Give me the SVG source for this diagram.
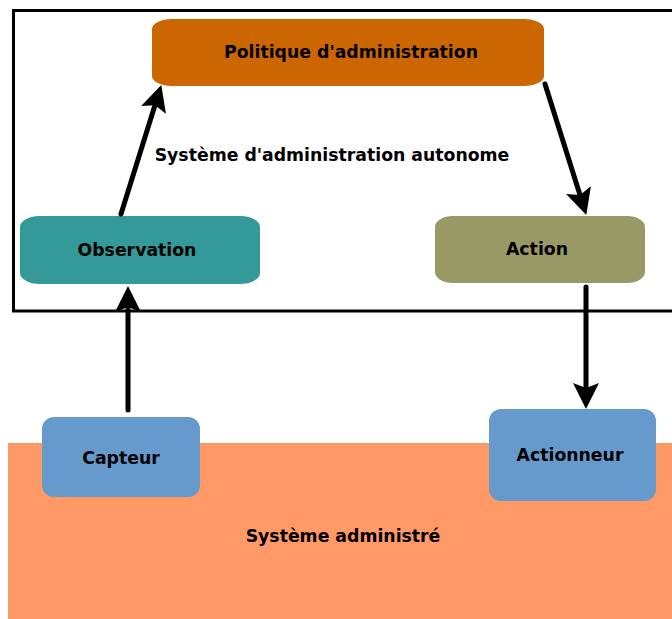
<svg xmlns="http://www.w3.org/2000/svg" width="672" height="619" viewBox="0 0 672 619">
<style>
  text { font-family: "DejaVu Sans", "Liberation Sans", sans-serif; font-weight: bold; font-size: 17.3px; fill: #000; text-anchor: middle; }
  .conn { stroke: #000; stroke-width: 5; fill: none; stroke-linecap: round; marker-end: url(#ah); }
</style>
<defs>
  <marker id="ah" markerUnits="userSpaceOnUse" markerWidth="28" markerHeight="28" viewBox="0 0 28 28" refX="16" refY="14" orient="auto">
    <path d="M1,1 L27,14 L1,27 L6,14 z" fill="#000"/>
  </marker>
</defs>
<rect width="672" height="619" fill="#fff"/>
<g id="systeme-administre">
  <rect x="8" y="443" width="664" height="176" fill="#FF9966"/>
  <text x="343" y="542">Système administré</text>
</g>
<g id="systeme-autonome">
  <rect x="13.5" y="10.5" width="700" height="300.5" fill="none" stroke="#000" stroke-width="3"/>
  <text x="332" y="161">Système d'administration autonome</text>
</g>
<g id="politique">
  <rect x="152" y="19" width="392" height="67" rx="20" ry="10" fill="#CC6600"/>
  <text x="351" y="58">Politique d'administration</text>
</g>
<g id="observation">
  <rect x="20" y="216" width="240" height="68" rx="20" ry="11" fill="#339999"/>
  <text x="137" y="256">Observation</text>
</g>
<g id="action">
  <rect x="435" y="216" width="210" height="67" rx="18" ry="11" fill="#999966"/>
  <text x="537" y="255">Action</text>
</g>
<g id="capteur">
  <rect x="42" y="417" width="158" height="80" rx="12" ry="12" fill="#6699CC"/>
  <text x="121" y="464">Capteur</text>
</g>
<g id="actionneur">
  <rect x="489" y="409" width="167" height="92" rx="12" ry="12" fill="#6699CC"/>
  <text x="570" y="461">Actionneur</text>
</g>
<g id="connectors">
  <line class="conn" x1="121" y1="214" x2="158" y2="95.6"/>
  <line class="conn" x1="545" y1="84" x2="583" y2="204.5"/>
  <line class="conn" x1="128" y1="410" x2="128" y2="297"/>
  <line class="conn" x1="586" y1="287" x2="586" y2="398"/>
</g>
</svg>
